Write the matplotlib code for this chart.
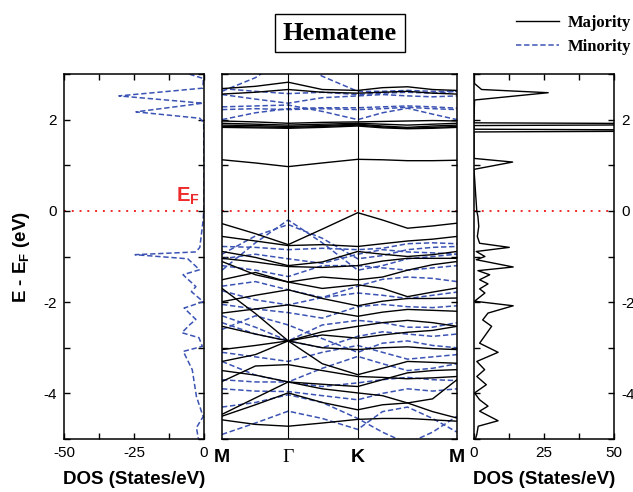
import matplotlib
matplotlib.use("Agg")
import matplotlib.pyplot as plt
from matplotlib.lines import Line2D
from matplotlib.ticker import MultipleLocator

plt.rcParams['font.family'] = ['Liberation Sans', 'DejaVu Sans']
plt.rcParams['mathtext.fontset'] = 'custom'
plt.rcParams['mathtext.rm'] = 'Liberation Sans'
plt.rcParams['mathtext.bf'] = 'Liberation Sans:bold'
plt.rcParams['mathtext.it'] = 'Liberation Sans:italic'
plt.rcParams['axes.unicode_minus'] = False

# k-path M - Gamma - K - M
k_points = [0, 100, 198, 300, 406, 480, 555, 630, 703]
k_ticks = [0, 198, 406, 703]
k_labels = ['M', 'Γ', 'K', 'M']

# majority (spin up) bands, eV
up_bands = [
    [2.68, 2.73, 2.82, 2.66, 2.64, 2.70, 2.72, 2.66, 2.64],
    [2.56, 2.60, 2.66, 2.60, 2.58, 2.60, 2.62, 2.58, 2.56],
    [1.97, 1.95, 1.92, 1.94, 1.95, 1.96, 1.97, 1.98, 1.97],
    [1.92, 1.90, 1.88, 1.90, 1.92, 1.90, 1.88, 1.90, 1.92],
    [1.88, 1.87, 1.85, 1.87, 1.90, 1.86, 1.83, 1.86, 1.88],
    [1.85, 1.84, 1.83, 1.85, 1.88, 1.84, 1.81, 1.83, 1.85],
    [1.83, 1.82, 1.81, 1.83, 1.86, 1.82, 1.80, 1.81, 1.83],
    [1.12, 1.05, 0.97, 1.05, 1.13, 1.12, 1.10, 1.10, 1.11],
    [-0.28, -0.50, -0.74, -0.40, -0.04, -0.20, -0.38, -0.33, -0.27],
    [-0.56, -0.66, -0.76, -0.74, -0.78, -0.72, -0.66, -0.62, -0.56],
    [-0.89, -1.02, -1.20, -1.12, -0.89, -0.95, -1.00, -0.96, -0.89],
    [-1.04, -1.12, -1.22, -1.24, -1.20, -1.10, -1.04, -1.04, -1.04],
    [-1.11, -1.40, -1.56, -1.45, -1.51, -1.45, -1.30, -1.18, -1.11],
    [-1.51, -1.35, -1.56, -1.70, -1.62, -1.70, -1.88, -1.78, -1.69],
    [-1.99, -1.85, -1.73, -1.92, -2.08, -1.98, -1.92, -1.92, -1.91],
    [-2.24, -2.15, -2.06, -2.18, -2.31, -2.22, -2.16, -2.18, -2.20],
    [-1.70, -2.25, -2.85, -2.65, -2.53, -2.45, -2.40, -2.45, -2.53],
    [-2.53, -2.70, -2.85, -2.72, -2.79, -2.72, -2.66, -2.62, -2.53],
    [-3.04, -2.95, -2.85, -3.00, -3.04, -3.00, -2.98, -3.02, -3.04],
    [-3.30, -3.15, -2.85, -3.35, -3.59, -3.45, -3.30, -3.32, -3.34],
    [-3.74, -3.40, -3.37, -3.50, -3.63, -3.65, -3.68, -3.66, -3.63],
    [-3.50, -3.60, -3.75, -3.80, -3.85, -3.70, -3.55, -3.50, -3.48],
    [-4.46, -4.10, -3.75, -3.90, -3.99, -4.05, -4.21, -4.12, -3.70],
    [-4.50, -4.25, -3.99, -4.20, -4.36, -4.25, -4.21, -4.40, -4.54],
    [-4.58, -4.68, -4.72, -4.65, -4.57, -4.55, -4.55, -4.58, -4.61],
]

# minority (spin down) bands, eV
dn_bands = [
    [2.62, 2.92, 3.40, 2.95, 2.62, 2.62, 2.64, 2.62, 2.62],
    [2.68, 2.62, 2.57, 2.60, 2.55, 2.58, 2.60, 2.58, 2.62],
    [2.55, 2.45, 2.36, 2.48, 2.52, 2.55, 2.52, 2.50, 2.52],
    [2.28, 2.30, 2.32, 2.18, 2.00, 2.15, 2.25, 2.12, 2.00],
    [2.22, 2.24, 2.22, 2.24, 2.22, 2.24, 2.27, 2.24, 2.22],
    [2.00, 2.15, 2.24, 2.26, 2.26, 2.28, 2.30, 2.28, 2.25],
    [-1.30, -0.70, -0.20, -0.70, -1.30, -1.20, -1.05, -1.00, -0.95],
    [-0.95, -0.55, -0.30, -0.60, -1.05, -0.98, -0.85, -0.80, -0.78],
    [-0.78, -0.80, -0.85, -0.82, -0.85, -0.82, -0.72, -0.70, -0.72],
    [-1.05, -0.95, -1.05, -1.15, -0.95, -0.85, -0.90, -0.92, -0.95],
    [-1.20, -1.30, -1.44, -1.20, -1.20, -1.25, -1.30, -1.25, -1.20],
    [-1.65, -1.55, -1.73, -1.90, -1.65, -1.50, -1.45, -1.48, -1.55],
    [-1.75, -1.95, -2.06, -1.90, -1.80, -1.85, -1.92, -1.85, -1.78],
    [-2.05, -2.15, -2.23, -2.35, -2.10, -2.05, -2.10, -2.12, -2.08],
    [-2.30, -2.55, -2.85, -2.50, -2.40, -2.45, -2.55, -2.55, -2.45],
    [-2.45, -2.70, -2.85, -3.00, -2.75, -2.65, -2.70, -2.75, -2.70],
    [-2.60, -2.30, -2.50, -2.80, -3.10, -2.90, -2.85, -2.95, -3.00],
    [-3.10, -3.20, -3.30, -3.10, -2.95, -3.10, -3.25, -3.20, -3.15],
    [-3.30, -3.60, -3.75, -3.45, -3.19, -3.35, -3.50, -3.45, -3.35],
    [-3.70, -3.75, -3.75, -3.85, -3.77, -3.70, -3.65, -3.70, -3.72],
    [-3.90, -3.95, -3.96, -4.05, -4.14, -4.00, -3.90, -3.95, -3.90],
    [-4.30, -4.20, -4.03, -4.20, -4.55, -4.85, -5.10, -4.85, -4.50],
    [-4.90, -4.65, -4.39, -4.55, -4.79, -4.40, -4.30, -4.55, -4.85],
]

# minority DOS (plotted negative)
dos_dn_e = [3.05, 2.90, 2.69, 2.52, 2.36, 2.17, 2.03, 1.93, 1.0, 0.1, -0.2, -0.80,
            -0.90, -0.96, -1.05, -1.29, -1.40, -1.66, -1.77, -1.99, -2.13, -2.38,
            -2.49, -2.67, -2.78, -2.97, -3.08, -3.48, -4.07, -4.51, -4.75, -5.0]
dos_dn = [-8.0, -0.2, -0.4, -30.4, -0.4, -24.3, -1.5, -0.1, 0.0, 0.0, -0.3, -1.5,
          -2.9, -24.6, -5.8, -1.6, -7.5, -2.9, -4.5, -0.3, -7.1, -2.9,
          -5.0, -7.9, -1.8, -0.6, -7.4, -4.2, -2.7, -0.3, -2.7, -2.0]

# majority DOS
dos_up_e = [3.0, 2.79, 2.66, 2.59, 2.43, 2.03, 1.93, 1.90, 1.87, 1.79, 1.76, 1.73,
            1.15, 1.07, 0.91, -0.01, -0.12, -0.34, -0.56, -0.71, -0.80, -0.89,
            -1.0, -1.07, -1.23, -1.31, -1.40, -1.51, -1.60, -1.71, -1.80, -1.98,
            -2.08, -2.24, -2.39, -2.53, -2.9, -3.1, -3.30, -3.48, -3.63, -3.81,
            -3.99, -4.14, -4.28, -4.39, -4.6, -4.72, -4.9, -5.0]
dos_up = [0.0, 0.2, 2.7, 26.5, 0.2, 0.0, 0.0, 120, 0.0, 0.0, 120, 0.0,
          0.0, 13.8, 0.0, 1.0, 1.4, 1.7, 1.2, 2.0, 12.6, 0.8,
          3.9, 0.8, 14.0, 1.4, 5.6, 2.0, 5.0, 2.0, 3.9, 0.2,
          14.0, 5.0, 3.1, 6.3, 2.0, 8.6, 1.0, 3.8, 1.0, 4.4,
          0.2, 2.0, 5.0, 2.0, 8.6, 1.5, 1.0, 0.5]

blue = '#3b53b3'
red = '#ee2a2a'
dash = (0, (3.5, 1.8))

fig = plt.figure(figsize=(6.33, 4.92), dpi=100)
bot = 1 - 439 / 492
h = 365 / 492
ax_l = fig.add_axes([64 / 633, bot, 140 / 633, h])
ax_b = fig.add_axes([222 / 633, bot, 235 / 633, h])
ax_r = fig.add_axes([474 / 633, bot, 140 / 633, h])

for ax in (ax_l, ax_b, ax_r):
    ax.set_ylim(-5, 3)
    ax.yaxis.set_major_locator(MultipleLocator(2))
    ax.yaxis.set_minor_locator(MultipleLocator(1))
    ax.tick_params(which='both', direction='in', top=True, right=True,
                   length=4, width=1, labelsize=11, pad=5)
    for s in ax.spines.values():
        s.set_linewidth(1.1)
    ax.axhline(0, color=red, ls=(0, (1, 3)), lw=1.4, zorder=1)

# left: minority DOS
ax_l.plot(dos_dn, dos_dn_e, color=blue, ls=dash, lw=1.1)
ax_l.set_xlim(-50, 0)
ax_l.set_xticks([-50, -25, 0])
ax_l.xaxis.set_minor_locator(MultipleLocator(12.5))
ax_l.set_xlabel('DOS (States/eV)', fontsize=13.5, fontweight='bold', labelpad=8)
ax_l.set_ylabel(r'$\mathbf{E}$ - $\mathbf{E_F}$ (eV)', fontsize=13.5,
                fontweight='bold', labelpad=8)
ax_l.text(-1.5, 0.2, r'$\mathbf{E_F}$', color=red, fontsize=14.5, ha='right')

# middle: band structure
for b in dn_bands:
    ax_b.plot(k_points, b, color=blue, ls=dash, lw=1.1)
for b in up_bands:
    ax_b.plot(k_points, b, color='black', lw=1)
for kx in k_ticks[1:-1]:
    ax_b.axvline(kx, color='black', lw=0.8)
ax_b.set_xlim(k_ticks[0], k_ticks[-1])
ax_b.set_xticks(k_ticks)
ax_b.set_xticklabels(k_labels, fontsize=14, fontweight='bold')
ax_b.tick_params(axis='x', length=0, pad=7)
ax_b.set_yticklabels([])
lbl = ax_b.get_xticklabels()[1]
lbl.set_fontfamily('Liberation Serif')
lbl.set_fontweight('normal')

# right: majority DOS
ax_r.plot(dos_up, dos_up_e, color='black', lw=1)
ax_r.set_xlim(0, 50)
ax_r.set_xticks([0, 25, 50])
ax_r.xaxis.set_minor_locator(MultipleLocator(12.5))
ax_r.tick_params(axis='y', labelleft=False, labelright=True)
ax_r.set_xlabel('DOS (States/eV)', fontsize=13.5, fontweight='bold', labelpad=8)

fig.text(340 / 633, 1 - 33 / 492, 'Hematene', family='Liberation Serif',
         weight='bold', size=19, ha='center', va='center',
         bbox=dict(boxstyle='square,pad=0.3', fc='white', ec='black', lw=1))

handles = [Line2D([], [], color='black', lw=1),
           Line2D([], [], color=blue, ls=dash, lw=1.1)]
fig.legend(handles, ['Majority', 'Minority'], loc='upper left',
           bbox_to_anchor=(516 / 633, 1 - 15 / 492), frameon=False,
           borderpad=0, borderaxespad=0, handlelength=2.6, handletextpad=0.5,
           labelspacing=0.5,
           prop=dict(family='Liberation Serif', weight='bold', size=12))

fig.savefig('out.png', dpi=100)
